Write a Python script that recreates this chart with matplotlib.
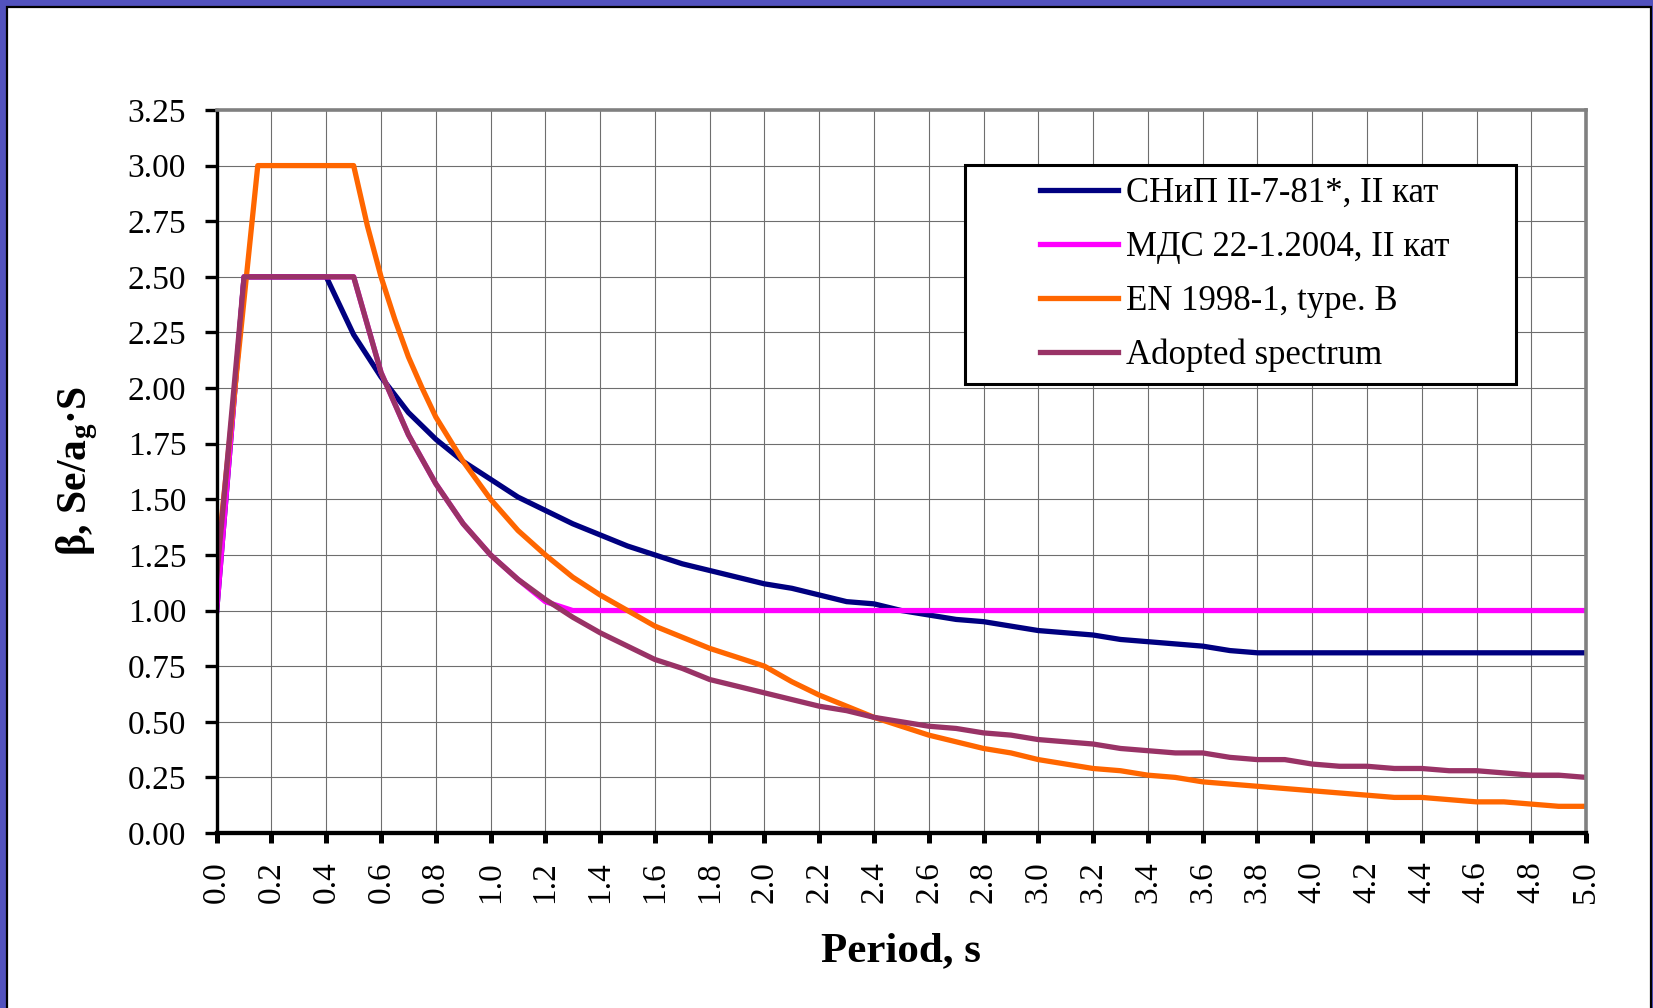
import matplotlib
matplotlib.use("Agg")
import matplotlib.pyplot as plt
from matplotlib.lines import Line2D
from matplotlib.legend_handler import HandlerLine2D
from matplotlib.patches import Rectangle
from matplotlib.ticker import MultipleLocator, FormatStrFormatter

plt.rcParams["font.family"] = ["Liberation Serif", "DejaVu Serif"]
plt.rcParams["mathtext.fontset"] = "custom"
plt.rcParams["mathtext.rm"] = "Liberation Serif"
plt.rcParams["mathtext.it"] = "Liberation Serif:italic"
plt.rcParams["mathtext.bf"] = "Liberation Serif:bold"

# period grid, s (0.0 ... 5.0 by 0.1)
periods = [round(0.1 * i, 1) for i in range(51)]

snip = [1.00, 2.50, 2.50, 2.50, 2.50, 2.24, 2.05, 1.89, 1.77, 1.67,
        1.59, 1.51, 1.45, 1.39, 1.34, 1.29, 1.25, 1.21, 1.18, 1.15,
        1.12, 1.10, 1.07, 1.04, 1.03, 1.00, 0.98, 0.96, 0.95, 0.93,
        0.91, 0.90, 0.89, 0.87, 0.86, 0.85, 0.84, 0.82, 0.81, 0.81,
        0.81, 0.81, 0.81, 0.81, 0.81, 0.81, 0.81, 0.81, 0.81, 0.81,
        0.81]

mds = [1.00, 2.50, 2.50, 2.50, 2.50, 2.50, 2.07, 1.79, 1.57, 1.39,
       1.25, 1.14, 1.04, 1.00, 1.00, 1.00, 1.00, 1.00, 1.00, 1.00,
       1.00, 1.00, 1.00, 1.00, 1.00, 1.00, 1.00, 1.00, 1.00, 1.00,
       1.00, 1.00, 1.00, 1.00, 1.00, 1.00, 1.00, 1.00, 1.00, 1.00,
       1.00, 1.00, 1.00, 1.00, 1.00, 1.00, 1.00, 1.00, 1.00, 1.00,
       1.00]

adopted = [1.15, 2.50, 2.50, 2.50, 2.50, 2.50, 2.07, 1.79, 1.57, 1.39,
           1.25, 1.14, 1.05, 0.97, 0.90, 0.84, 0.78, 0.74, 0.69, 0.66,
           0.63, 0.60, 0.57, 0.55, 0.52, 0.50, 0.48, 0.47, 0.45, 0.44,
           0.42, 0.41, 0.40, 0.38, 0.37, 0.36, 0.36, 0.34, 0.33, 0.33,
           0.31, 0.30, 0.30, 0.29, 0.29, 0.28, 0.28, 0.27, 0.26, 0.26,
           0.25]

en_periods = [0.0, 0.15, 0.2, 0.3, 0.4, 0.5, 0.55, 0.6, 0.65, 0.7, 0.75,
              0.8, 0.9, 1.0, 1.1, 1.2, 1.3, 1.4, 1.5, 1.6, 1.7, 1.8, 1.9,
              2.0, 2.1, 2.2, 2.3, 2.4, 2.5, 2.6, 2.7, 2.8, 2.9, 3.0, 3.1,
              3.2, 3.3, 3.4, 3.5, 3.6, 3.7, 3.8, 3.9, 4.0, 4.1, 4.2, 4.3,
              4.4, 4.5, 4.6, 4.7, 4.8, 4.9, 5.0]
en1998 = [1.20, 3.00, 3.00, 3.00, 3.00, 3.00, 2.73, 2.50, 2.31, 2.14, 2.00,
          1.87, 1.67, 1.50, 1.36, 1.25, 1.15, 1.07, 1.00, 0.93, 0.88, 0.83,
          0.79, 0.75, 0.68, 0.62, 0.57, 0.52, 0.48, 0.44, 0.41, 0.38, 0.36,
          0.33, 0.31, 0.29, 0.28, 0.26, 0.25, 0.23, 0.22, 0.21, 0.20, 0.19,
          0.18, 0.17, 0.16, 0.16, 0.15, 0.14, 0.14, 0.13, 0.12, 0.12]

fig = plt.figure(figsize=(16.53, 10.08), dpi=100)
fig.patch.set_facecolor("#5252BE")
fig.patches.append(Rectangle((7 / 1653, -0.01), 1644 / 1653, 1 - 7 / 1008 + 0.01,
                             transform=fig.transFigure, facecolor="white",
                             edgecolor="black", linewidth=1.6, zorder=-10))

ax = fig.add_axes([0.1311, 0.1736, 0.8284, 0.7173])

lw = 3.8
ax.plot(periods, snip, color="#000080", lw=lw, label="СНиП II-7-81*, II кат")
ax.plot(periods, mds, color="#FF00FF", lw=lw, label="МДС 22-1.2004, II кат")
ax.plot(en_periods, en1998, color="#FF6600", lw=lw, label="EN 1998-1, type. B")
ax.plot(periods, adopted, color="#993366", lw=lw, label="Adopted spectrum")

ax.set_xlim(0, 5)
ax.set_ylim(0, 3.25)
ax.xaxis.set_major_locator(MultipleLocator(0.2))
ax.xaxis.set_major_formatter(FormatStrFormatter("%.1f"))
ax.yaxis.set_major_locator(MultipleLocator(0.25))
ax.yaxis.set_major_formatter(FormatStrFormatter("%.2f"))
ax.grid(True, color="#6e6e6e", lw=0.8)
ax.set_axisbelow(True)

ax.tick_params(axis="x", labelsize=24, rotation=90, length=7, width=3.6,
               pad=13, direction="out")
ax.tick_params(axis="y", labelsize=24, length=9, width=2.4, pad=13,
               direction="out")

for side in ("top", "right"):
    ax.spines[side].set_color("#808080")
    ax.spines[side].set_linewidth(2.6)
ax.spines["left"].set_linewidth(2.4)
ax.spines["bottom"].set_linewidth(3.1)

ax.set_xlabel("Period, s", fontsize=31, fontweight="bold")
ax.xaxis.set_label_coords(0.5, -0.163)
ax.xaxis.label.set_va("center")
ax.set_ylabel(r"β, Se/$\mathbf{a_g}$·S", fontsize=30, fontweight="bold")
ax.yaxis.set_label_coords(-0.102, 0.5)
ax.yaxis.label.set_va("center")

leg_top = 1 - 165 / 1008
leg = ax.legend(loc="upper left",
                bbox_to_anchor=(965 / 1653, leg_top - 0.1, (1516 - 965) / 1653, 0.1),
                bbox_transform=fig.transFigure, mode="expand", borderaxespad=0,
                fontsize=25, handlelength=4.05, handletextpad=0.23,
                labelspacing=0.6, borderpad=0.35, fancybox=False,
                framealpha=1, edgecolor="black",
                handler_map={Line2D: HandlerLine2D(xpad=1.81)})
leg.get_frame().set_linewidth(2.2)

fig.savefig("out.png", dpi=100, facecolor=fig.get_facecolor())
